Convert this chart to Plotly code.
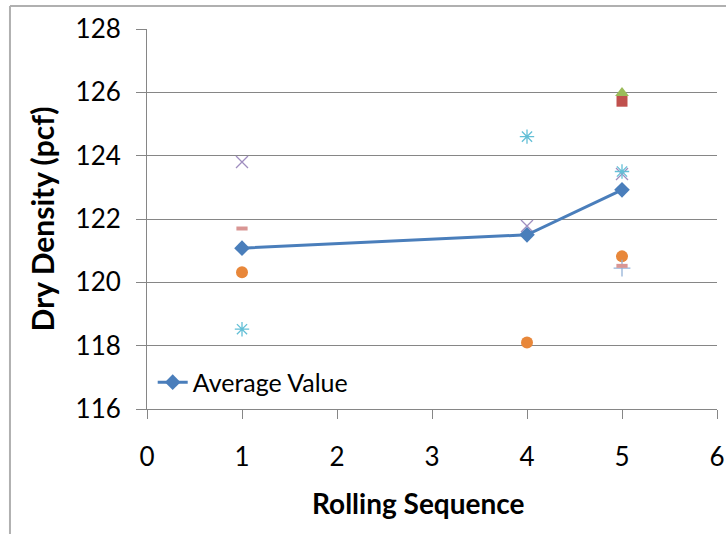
import plotly.graph_objects as go

# Rolling passes at which density was measured
seq_all = [1, 4, 5]
seq_last = [5]

# Average dry density per rolling pass (pcf)
avg_value = [121.08, 121.50, 122.92]

# Individual test readings (pcf)
test_square = [125.72]
test_triangle = [125.98]
test_x = [123.80, 121.78, 123.42]
test_star = [118.52, 124.60, 123.50]
test_circle = [120.32, 118.10, 120.82]
test_plus = [120.45]
test_dash = [121.70, 120.52]
seq_dash = [1, 5]

FONT = "Lato"

fig = go.Figure()

def points(x, y, symbol, color, size=12, line_w=0, name=""):
    fig.add_trace(go.Scatter(
        x=x, y=y, mode="markers", name=name, showlegend=False,
        marker=dict(symbol=symbol, size=size, color=color,
                    line=dict(color=color, width=line_w)),
    ))

points(seq_last, test_square, "square", "#C0504D", size=11)
points(seq_last, test_triangle, "triangle-up", "#9BBB59", size=12)
points(seq_all, test_x, "x-thin-open", "#9F8DBF", size=12, line_w=1.3)
points(seq_all, test_star, "asterisk-open", "#63BFD6", size=12, line_w=1.3)
points(seq_all, test_circle, "circle", "#E8873A", size=12)
points(seq_last, test_plus, "cross-thin-open", "#95B3D7", size=12, line_w=1.3)
points(seq_dash, test_dash, "line-ew-open", "#D99694", size=8, line_w=4)

fig.add_trace(go.Scatter(
    x=seq_all, y=avg_value, mode="lines+markers", name="Average Value",
    line=dict(color="#4A7EBB", width=3),
    marker=dict(symbol="diamond", size=12, color="#4A7EBB"),
))

axis_color = "#868686"

fig.update_xaxes(
    range=[0, 6], dtick=1, tick0=0, automargin=False,
    showgrid=False, zeroline=False,
    showline=True, linecolor=axis_color, linewidth=1,
    ticks="outside", ticklen=9, tickcolor=axis_color,
    ticklabelstandoff=16,
    tickfont=dict(family=FONT, size=26, color="#000000"),
)
fig.update_yaxes(
    range=[116, 128], dtick=2, tick0=116, automargin=False,
    showgrid=True, gridcolor=axis_color, gridwidth=1, zeroline=False,
    showline=True, linecolor=axis_color, linewidth=1,
    ticks="outside", ticklen=10, tickcolor=axis_color,
    ticklabelstandoff=10,
    tickfont=dict(family=FONT, size=26, color="#000000"),
    title=dict(text="<b>Dry Density (pcf)</b>", standoff=12,
               font=dict(family=FONT, size=30, color="#000000")),
)

# X-axis title, placed slightly left of the plot centre
fig.add_annotation(
    text="<b>Rolling Sequence</b>", xref="paper", yref="paper",
    x=0.4746, y=-0.247, xanchor="center", yanchor="middle", showarrow=False,
    font=dict(family=FONT, size=28, color="#000000"),
)

# Chart frame (top and left edges)
frame = dict(color="#B0B0B0", width=2)
fig.add_shape(type="line", xref="paper", yref="paper",
              x0=-0.2404, x1=1.03, y0=1.0605, y1=1.0605, line=frame)
fig.add_shape(type="line", xref="paper", yref="paper",
              x0=-0.2404, x1=-0.2404, y0=1.0605, y1=-0.35, line=frame)

fig.update_layout(
    width=726, height=534,
    margin=dict(l=147, r=9, t=29, b=125),
    paper_bgcolor="white", plot_bgcolor="white",
    legend=dict(x=0.01, y=0.07, xanchor="left", yanchor="middle",
                bgcolor="rgba(0,0,0,0)",
                font=dict(family=FONT, size=25, color="#000000"),
                itemwidth=30),
    showlegend=True,
)

fig.write_html("out.html")
